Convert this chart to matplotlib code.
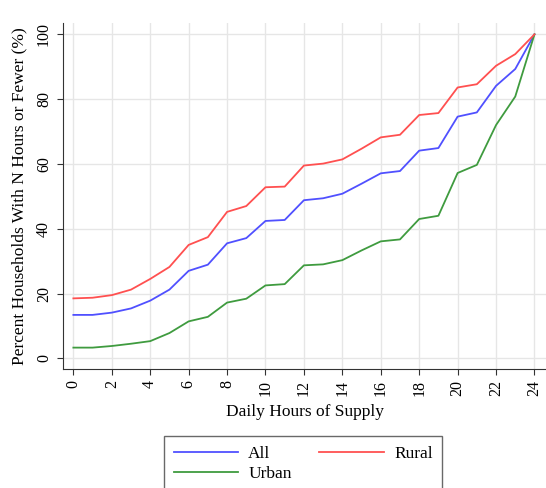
import numpy as np
import matplotlib as mpl
import matplotlib.pyplot as plt

mpl.rc('font', family='Liberation Serif', size=12.5)

hours = np.arange(0, 25)
all_hh = [13.4, 13.4, 14.1, 15.4, 17.8, 21.2, 27.0, 28.9, 35.5, 37.1, 42.4,
          42.7, 48.8, 49.4, 50.8, 53.9, 57.1, 57.8, 64.1, 64.9, 74.6, 75.9,
          84.1, 89.3, 100.0]
rural = [18.5, 18.7, 19.5, 21.2, 24.5, 28.2, 35.0, 37.4, 45.2, 47.0, 52.8,
         53.0, 59.5, 60.1, 61.4, 64.7, 68.2, 69.0, 75.1, 75.7, 83.6, 84.6,
         90.3, 93.9, 100.0]
urban = [3.3, 3.3, 3.8, 4.5, 5.3, 7.8, 11.4, 12.8, 17.2, 18.4, 22.5, 22.9,
         28.7, 29.0, 30.3, 33.3, 36.1, 36.7, 43.0, 44.0, 57.2, 59.7, 72.0,
         80.8, 100.0]

fig = plt.figure(figsize=(5.46, 4.88), dpi=100)
ax = fig.add_axes([63 / 546, 1 - 369 / 488, 1 - 63 / 546, (369 - 23) / 488])

ax.plot(hours, all_hh, color='#5050ff', lw=1.3, label='All')
ax.plot(hours, urban, color='#3f9b3f', lw=1.3, label='Urban')
ax.plot(hours, rural, color='#ff5050', lw=1.3, label='Rural')

ax.set_xlim(-0.54, 24.6)
ax.set_ylim(-3.3, 103.5)
ax.set_xticks(np.arange(0, 25, 2))
ax.set_yticks(np.arange(0, 101, 20))
ax.tick_params(axis='both', labelsize=11.5, color='#333333', length=4,
               labelrotation=90, pad=4)
for lbl in ax.get_yticklabels():
    lbl.set_va('center')
ax.grid(color='#e6e6e6', lw=1.0)
ax.set_axisbelow(True)
for s in ['top', 'right']:
    ax.spines[s].set_visible(False)
for s in ['left', 'bottom']:
    ax.spines[s].set_color('#333333')
ax.set_xlabel('Daily Hours of Supply', labelpad=6)
ax.set_ylabel('Percent Households With N Hours or Fewer (%)', labelpad=6)

# legend box runs off the bottom edge like the original
leg = fig.legend(loc='lower left', bbox_to_anchor=(164 / 546, -4 / 488),
                 ncol=2, frameon=True, fancybox=False, handlelength=3.7,
                 borderaxespad=0, handletextpad=0.6, borderpad=0.55,
                 columnspacing=1.6, labelspacing=0.25)
leg.get_frame().set_edgecolor('#444444')
leg.get_frame().set_linewidth(1.0)

fig.savefig('out.png', dpi=100)
